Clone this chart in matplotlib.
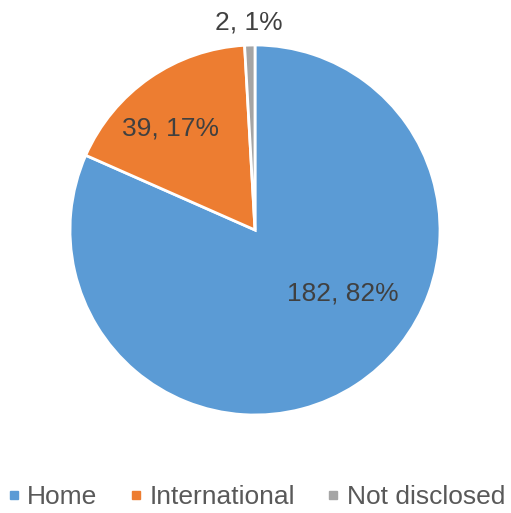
import matplotlib
matplotlib.use("Agg")
import matplotlib.pyplot as plt
from matplotlib.lines import Line2D

categories = ["Home", "International", "Not disclosed"]
counts = [182, 39, 2]
colors = ["#5B9BD5", "#ED7D31", "#A5A5A5"]

plt.rcParams['font.family'] = ['Liberation Sans', 'DejaVu Sans']

fig = plt.figure(figsize=(5.11, 5.13), dpi=100)
W, H = 511, 513
cx, cy, r = 255, 230, 185
ax = fig.add_axes([(cx - r) / W, (H - cy - r) / H, 2 * r / W, 2 * r / H])

total = sum(counts)


def fmt(pct):
    n = round(pct * total / 100)
    return f"{n}, {pct:.0f}%"


wedges, texts, autotexts = ax.pie(
    counts, colors=colors, startangle=90, counterclock=False,
    autopct=fmt,
    wedgeprops=dict(edgecolor="white", linewidth=2),
    textprops=dict(color="#404040", fontsize=19),
)
ax.set_xlim(-1, 1)
ax.set_ylim(-1, 1)
ax.set_aspect("equal")

# data-label placement (unit-radius coordinates)
label_pos = [(0.476, -0.345), (-0.459, 0.551), (-0.035, 1.124)]
for t, p in zip(autotexts, label_pos):
    t.set_position(p)
    t.set_clip_on(False)

handles = [Line2D([], [], marker="s", linestyle="none", markersize=6,
                  markerfacecolor=c, markeredgecolor=c) for c in colors]
fig.legend(handles, categories, loc="center", bbox_to_anchor=(0.5, (H - 497) / H),
           ncol=3, frameon=False, fontsize=19, labelcolor="#595959",
           handlelength=0.6, handletextpad=0.22, columnspacing=1.15)

fig.savefig("out.png", dpi=100, facecolor="white")
